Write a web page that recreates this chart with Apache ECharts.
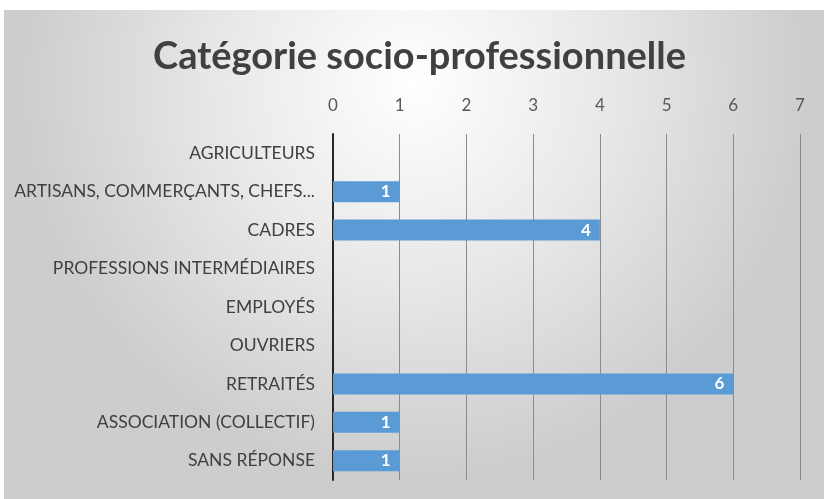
<!DOCTYPE html>
<html>
<head>
<meta charset="utf-8">
<script src="https://cdn.jsdelivr.net/npm/echarts@6/dist/echarts.min.js"></script>
<style>
  html, body { margin: 0; padding: 0; background: #fff; }
  #chart { width: 824px; height: 499px; }
</style>
</head>
<body>
<div id="chart"></div>
<script>
// données du graphique
var categories = [
    "AGRICULTEURS",
    "ARTISANS, COMMERÇANTS, CHEFS...",
    "CADRES",
    "PROFESSIONS INTERMÉDIAIRES",
    "EMPLOYÉS",
    "OUVRIERS",
    "RETRAITÉS",
    "ASSOCIATION (COLLECTIF)",
    "SANS RÉPONSE"
];
var values = [0, 1, 4, 0, 0, 0, 6, 1, 1];
var axisMin = 0;
var axisMax = 7;

var chart = echarts.init(document.getElementById("chart"));

var option = {
    animation: false,
    graphic: [{
        type: "rect",
        z: -10,
        shape: { x: 4, y: 10, width: 820, height: 489 },
        style: {
            fill: {
                type: "radial", x: 0.5, y: 0.15, r: 0.8,
                colorStops: [
                    { offset: 0, color: "#ffffff" },
                    { offset: 0.5, color: "#e8e8e8" },
                    { offset: 1, color: "#cdcdcd" }
                ]
            }
        }
    }],
    title: {
        text: "Catégorie socio-professionnelle",
        left: 148,
        top: 33,
        textStyle: {
            fontFamily: "Lato",
            fontWeight: "bold",
            fontSize: 38,
            color: "#404040"
        }
    },
    grid: {
        left: 333,
        right: 24,
        top: 134,
        bottom: 19,
        containLabel: false
    },
    xAxis: {
        type: "value",
        position: "top",
        min: axisMin,
        max: axisMax,
        interval: 1,
        axisLine: { show: false },
        axisTick: { show: false },
        axisLabel: {
            color: "#595959",
            fontFamily: "Lato",
            fontSize: 17,
            margin: 20
        },
        splitLine: { lineStyle: { color: "#8c8c8c", width: 1 } }
    },
    yAxis: {
        type: "category",
        inverse: true,
        data: categories,
        axisLine: { show: true, lineStyle: { color: "#262626", width: 2 } },
        axisTick: { show: false },
        axisLabel: {
            color: "#404040",
            fontFamily: "Lato",
            fontSize: 17.5,
            margin: 18
        }
    },
    series: [{
        type: "bar",
        data: values,
        barWidth: 21,
        itemStyle: {
            color: "#5b9bd5"
        },
        label: {
            show: true,
            position: "insideRight",
            distance: 9,
            color: "#ffffff",
            fontFamily: "Lato",
            fontWeight: "bold",
            fontSize: 17,
            formatter: function (p) { return p.value > 0 ? p.value : ""; }
        }
    }]
};

chart.setOption(option);
</script>
</body>
</html>
